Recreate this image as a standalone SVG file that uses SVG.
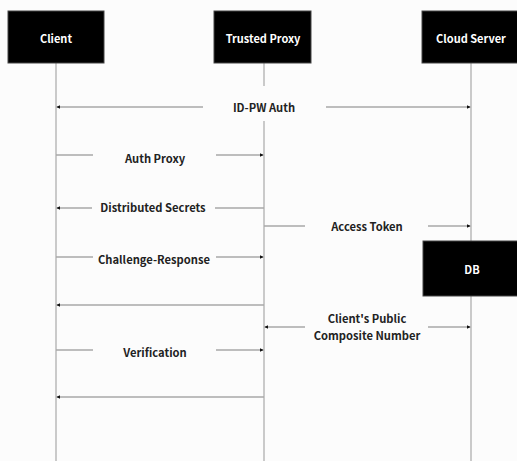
<svg xmlns="http://www.w3.org/2000/svg" width="517" height="461" viewBox="0 0 517 461">
<style>
.box{fill:#000;stroke:#444;stroke-width:1}
.btxt{fill:#fff;font-family:"Noto Sans CJK KR","Noto Sans",sans-serif;font-weight:bold;font-size:11px;text-anchor:middle;dominant-baseline:central}
.life{stroke:#bdbdbd;stroke-width:1.6;fill:none}
.msg{stroke:#a8a8a8;stroke-width:1.4;fill:none}
.lbl{fill:#222;font-family:"Noto Sans CJK KR","Noto Sans",sans-serif;font-weight:bold;font-size:11.2px;text-anchor:middle;dominant-baseline:central}
</style>
<defs>
<marker id="ah" viewBox="0 0 6 6" refX="5" refY="3" markerWidth="4" markerHeight="4" orient="auto" markerUnits="userSpaceOnUse">
<path d="M0,0 L6,3 L0,6 z" fill="#111"/>
</marker>
</defs>
<rect width="517" height="461" fill="#fcfcfc"/>
<g id="lifelines">
<line class="life" x1="56" y1="63" x2="56" y2="461"/>
<line class="life" x1="264" y1="63" x2="264" y2="86"/>
<line class="life" x1="264" y1="121" x2="264" y2="461"/>
<line class="life" x1="471" y1="63" x2="471" y2="241"/>
<line class="life" x1="471" y1="296" x2="471" y2="461"/>
</g>
<g id="client"><rect class="box" x="8" y="11" width="96" height="52"/><text class="btxt" x="56" y="38">Client</text></g>
<g id="proxy"><rect class="box" x="214" y="11" width="97" height="52"/><text class="btxt" x="263" y="38">Trusted Proxy</text></g>
<g id="cloud"><rect class="box" x="422" y="11" width="100" height="52"/><text class="btxt" x="471" y="38">Cloud Server</text></g>
<g id="db"><rect class="box" x="423" y="241" width="100" height="55"/><text class="btxt" x="472" y="269">DB</text></g>
<g id="connectors">
<line class="msg" x1="203" y1="107" x2="57" y2="107" marker-end="url(#ah)"/>
<line class="msg" x1="326" y1="107" x2="470" y2="107" marker-end="url(#ah)"/>
<line class="msg" x1="56" y1="155" x2="93" y2="155"/>
<line class="msg" x1="216" y1="155" x2="263" y2="155" marker-end="url(#ah)"/>
<line class="msg" x1="92" y1="208" x2="57" y2="208" marker-end="url(#ah)"/>
<line class="msg" x1="264" y1="208" x2="215" y2="208"/>
<line class="msg" x1="264" y1="226" x2="305" y2="226"/>
<line class="msg" x1="428" y1="226" x2="470" y2="226" marker-end="url(#ah)"/>
<line class="msg" x1="56" y1="257" x2="93" y2="257"/>
<line class="msg" x1="216" y1="257" x2="263" y2="257" marker-end="url(#ah)"/>
<line class="msg" x1="264" y1="305" x2="57" y2="305" marker-end="url(#ah)"/>
<line class="msg" x1="305" y1="327" x2="265" y2="327" marker-end="url(#ah)"/>
<line class="msg" x1="428" y1="327" x2="470" y2="327" marker-end="url(#ah)"/>
<line class="msg" x1="56" y1="350" x2="93" y2="350"/>
<line class="msg" x1="216" y1="350" x2="263" y2="350" marker-end="url(#ah)"/>
<line class="msg" x1="264" y1="397" x2="57" y2="397" marker-end="url(#ah)"/>
</g>
<g id="labels">
<text class="lbl" x="264" y="107">ID-PW Auth</text>
<text class="lbl" x="155" y="158">Auth Proxy</text>
<text class="lbl" x="153" y="207">Distributed Secrets</text>
<text class="lbl" x="367" y="226">Access Token</text>
<text class="lbl" x="154" y="259">Challenge-Response</text>
<text class="lbl" x="367" y="318">Client's Public</text>
<text class="lbl" x="367" y="335">Composite Number</text>
<text class="lbl" x="155" y="352">Verification</text>
</g>
</svg>
